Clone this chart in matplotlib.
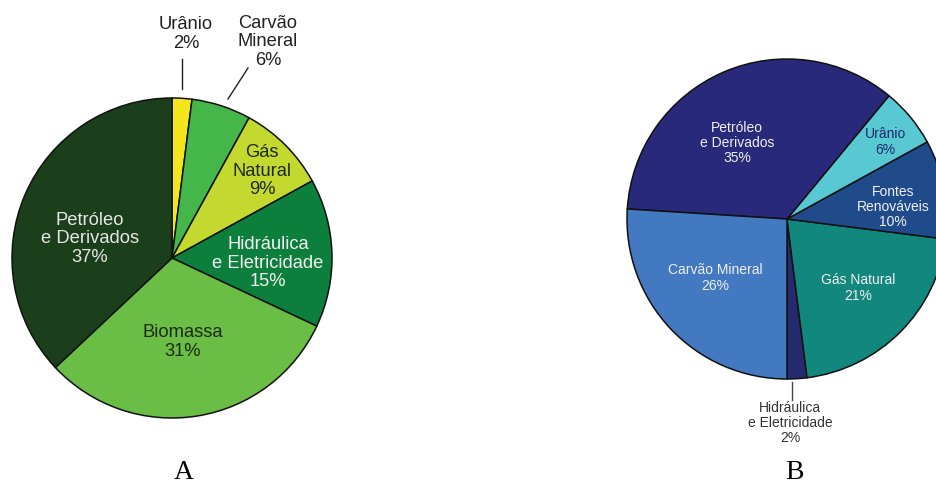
import matplotlib.pyplot as plt

# Pie A
labels_a = ["Urânio\n2%", "Carvão\nMineral\n6%", "Gás\nNatural\n9%",
            "Hidráulica\ne Eletricidade\n15%", "Biomassa\n31%",
            "Petróleo\ne Derivados\n37%"]
values_a = [2, 6, 9, 15, 31, 37]
colors_a = ["#f3e61c", "#45b649", "#c3d92f", "#0c7f3d", "#6abd45", "#1b3f1b"]
text_colors_a = ["#222222", "#222222", "#1e2a10", "#f2f2f2", "#1e2a10", "#e6e6e6"]

# Pie B
labels_b = ["Hidráulica\ne Eletricidade\n2%", "Gás Natural\n21%",
            "Fontes\nRenováveis\n10%", "Urânio\n6%",
            "Petróleo\ne Derivados\n35%", "Carvão Mineral\n26%"]
values_b = [2, 21, 10, 6, 35, 26]
colors_b = ["#252a6e", "#12877e", "#1f4b8b", "#58c9d2", "#29297b", "#4279c0"]
text_colors_b = ["#333333", "#f0f0f0", "#f0f0f0", "#1c2a6a", "#f0f0f0", "#f0f0f0"]

W, H = 936, 485
fig = plt.figure(figsize=(W / 100, H / 100), dpi=100)
ax = fig.add_axes([0, 0, 1, 1])
ax.set_xlim(0, W)
ax.set_ylim(0, H)
ax.set_aspect("equal")
ax.axis("off")

plt.rcParams["font.family"] = ["Liberation Sans", "DejaVu Sans"]

wp = dict(edgecolor="#111111", linewidth=1.1)

# pie A, drawn clockwise from the top
ca, ra = (172, H - 259), 160
ax.pie(values_a, colors=colors_a, startangle=90, counterclock=False,
       center=ca, radius=ra, wedgeprops=wp, frame=True)

# pie B, counter-clockwise from the bottom
cb, rb = (787, H - 220), 160
ax.pie(values_b, colors=colors_b, startangle=270, counterclock=True,
       center=cb, radius=rb, wedgeprops=wp, frame=True)

ax.set_xlim(0, W)
ax.set_ylim(0, H)
ax.axis("off")

# label positions (image pixels)
pos_a = [(186, 34), (268, 42), (262, 171), (268, 263), (183, 342), (90, 239)]
pos_b = [(790, 423), (858, 288), (893, 207), (885, 142), (737, 143), (715, 278)]

for lab, (x, y), c in zip(labels_a, pos_a, text_colors_a):
    ax.text(x, H - y, lab, ha="center", va="center", fontsize=13.2,
            color=c, linespacing=1.1)
for lab, (x, y), c in zip(labels_b, pos_b, text_colors_b):
    ax.text(x, H - y, lab, ha="center", va="center", fontsize=10,
            color=c, linespacing=1.1)

# leader lines
ax.plot([182, 182], [H - 60, H - 90], color="#222222", lw=1)
ax.plot([248, 228], [H - 69, H - 100], color="#222222", lw=1)
ax.plot([792, 792], [H - 383, H - 401], color="#444444", lw=1)

ax.text(184, H - 473, "A", ha="center", va="center", fontsize=20,
        family="Liberation Serif", color="black")
ax.text(794, H - 473, "B", ha="center", va="center", fontsize=20,
        family="Liberation Serif", color="black")

fig.savefig("out.png", dpi=100)
